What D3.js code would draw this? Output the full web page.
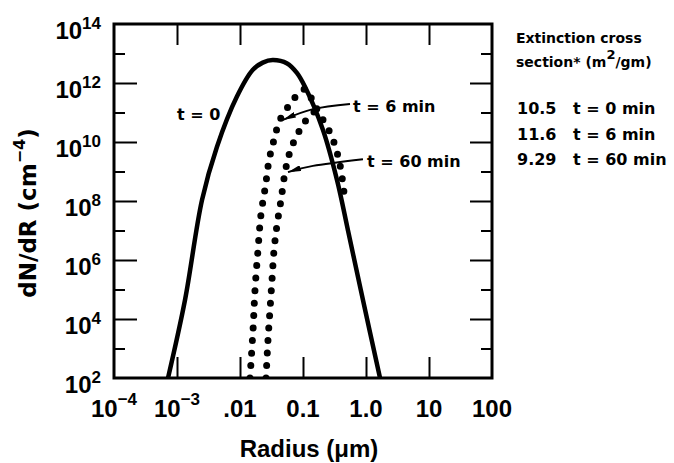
<!DOCTYPE html>
<html>
<head>
<meta charset="utf-8">
<script src="https://cdn.jsdelivr.net/npm/d3@7"></script>
<style>
  html, body { margin: 0; padding: 0; background: #fff; }
  svg { display: block; }
  .tick-label { font-family: "Liberation Sans", Arial, sans-serif; font-weight: bold; font-size: 24px; fill: #000; }
  .axis-title { font-family: "Liberation Sans", Arial, sans-serif; font-weight: bold; font-size: 24px; fill: #000; }
  .note { font-family: "DejaVu Sans", sans-serif; font-weight: bold; font-size: 16px; fill: #000; }
  .legend-head { font-family: "DejaVu Sans", sans-serif; font-weight: bold; font-size: 14px; fill: #000; }
</style>
</head>
<body>
<svg id="chart" width="674" height="463"></svg>
<script>
// size distribution dN/dR vs radius (um)
const RADIUS_T0 = [7.2e-4, 1.34e-3, 2.5e-3, 4.3e-3, 8.9e-3, 1.6e-2, 2.3e-2, 3.3e-2, 5.6e-2, 8.0e-2, 0.108, 0.207, 0.347, 0.518, 0.895, 1.67];
const DNDR_T0 = [1e2, 4.4e4, 1.1e8, 6.8e9, 3.4e11, 2.8e12, 4.9e12, 6.0e12, 4.6e12, 2.2e12, 7.3e11, 2.6e10, 5.1e8, 1.0e7, 4.4e4, 1e2];

const RADIUS_T6 = [1.44e-2, 1.61e-2, 1.73e-2, 1.93e-2, 2.15e-2, 2.55e-2, 2.9e-2, 3.47e-2, 4.3e-2, 6.2e-2, 8.95e-2, 0.112, 0.144, 0.200, 0.288, 0.386, 0.465];
const DNDR_T6 = [1e2, 4.3e3, 9.6e4, 2.2e6, 3.4e7, 3.5e8, 2.5e9, 1.2e10, 5.6e10, 1.9e11, 4.9e11, 6.3e11, 2.3e11, 6.5e10, 1.5e10, 1.7e9, 9.3e7];

const RADIUS_T60 = [2.59e-2, 2.78e-2, 2.99e-2, 3.22e-2, 3.47e-2, 3.86e-2, 4.48e-2, 5.2e-2, 6.2e-2, 8.0e-2, 0.1, 0.129, 0.167];
const DNDR_T60 = [1e2, 1.9e3, 2.0e4, 2.1e5, 2.2e6, 1.5e7, 1.1e8, 9.6e8, 4.6e9, 1.7e10, 3.8e10, 8.3e10, 1.2e11];

// axis ticks and labels
const X_TICKS = [1e-3, 1e-2, 1e-1, 1, 10];
const X_LABEL_VALUES = [1e-4, 1e-3, 1e-2, 1e-1, 1, 10, 100];
const X_LABEL_BASE = ["10", "10", ".01", "0.1", "1.0", "10", "100"];
const X_LABEL_SUP = ["\u22124", "\u22123", "", "", "", "", ""];
const Y_MAJOR = [1e4, 1e6, 1e8, 1e10, 1e12];
const Y_MINOR = [1e3, 1e5, 1e7, 1e9, 1e11, 1e13];
const Y_LABEL_EXP = [2, 4, 6, 8, 10, 12, 14];

// curve annotations (label position and arrow path, in data units)
const NOTE_TEXT = ["t = 0", "t = 6 min", "t = 60 min"];
const NOTE_R = [1e-3, 0.622, 1.04];
const NOTE_N = [5.6e10, 1.05e11, 1.4e9];
const ARROW_T6_R = [0.557, 0.144, 0.048];
const ARROW_T6_N = [1.95e11, 1.3e11, 5.6e10];
const ARROW_T60_R = [0.895, 0.144, 0.0578];
const ARROW_T60_N = [2.6e9, 1.55e9, 9.5e8];

// legend block
const EXT_VALUES = ["10.5", "11.6", "9.29"];
const EXT_TIMES = ["t = 0 min", "t = 6 min", "t = 60 min"];

const plot = { left: 114, top: 24, right: 492, bottom: 378 };

const svg = d3.select("#chart");

const x = d3.scaleLog().domain([1e-4, 100]).range([plot.left, plot.right]);
const y = d3.scaleLog().domain([1e2, 1e14]).range([plot.bottom, plot.top]);

const zip = (rs, ns) => rs.map((r, i) => ({ r, n: ns[i] }));

const defs = svg.append("defs");
defs.append("clipPath").attr("id", "plot-clip")
  .append("rect")
  .attr("x", plot.left).attr("y", plot.top)
  .attr("width", plot.right - plot.left).attr("height", plot.bottom - plot.top);

defs.append("marker")
  .attr("id", "arrow")
  .attr("viewBox", "0 0 13 6")
  .attr("refX", 13).attr("refY", 3)
  .attr("markerWidth", 13).attr("markerHeight", 6)
  .attr("markerUnits", "userSpaceOnUse")
  .attr("orient", "auto")
  .append("path")
  .attr("d", "M0,0L13,3L0,6Z")
  .attr("fill", "#000");

// ticks (inward on all four sides)
const noLabel = () => "";
const styleAxis = (g) => {
  g.select(".domain").remove();
  g.selectAll(".tick line").attr("stroke", "#000").attr("stroke-width", 2);
};

svg.append("g").attr("transform", `translate(0,${plot.bottom})`)
  .call(d3.axisBottom(x).tickValues(X_TICKS).tickSize(-21).tickFormat(noLabel)).call(styleAxis);
svg.append("g").attr("transform", `translate(0,${plot.top})`)
  .call(d3.axisTop(x).tickValues(X_TICKS).tickSize(-21).tickFormat(noLabel)).call(styleAxis);
svg.append("g").attr("transform", `translate(${plot.left},0)`)
  .call(d3.axisLeft(y).tickValues(Y_MAJOR).tickSize(-23).tickFormat(noLabel)).call(styleAxis);
svg.append("g").attr("transform", `translate(${plot.left},0)`)
  .call(d3.axisLeft(y).tickValues(Y_MINOR).tickSize(-11).tickFormat(noLabel)).call(styleAxis);
svg.append("g").attr("transform", `translate(${plot.right},0)`)
  .call(d3.axisRight(y).tickValues(Y_MAJOR).tickSize(-22).tickFormat(noLabel)).call(styleAxis);
svg.append("g").attr("transform", `translate(${plot.right},0)`)
  .call(d3.axisRight(y).tickValues(Y_MINOR).tickSize(-11).tickFormat(noLabel)).call(styleAxis);

svg.append("rect")
  .attr("x", plot.left).attr("y", plot.top)
  .attr("width", plot.right - plot.left).attr("height", plot.bottom - plot.top)
  .attr("fill", "none").attr("stroke", "#000").attr("stroke-width", 3);

// tick labels
const xLab = svg.append("g").selectAll("text")
  .data(X_LABEL_VALUES)
  .join("text")
  .attr("class", "tick-label")
  .attr("x", (d) => x(d))
  .attr("y", plot.bottom + 39)
  .attr("text-anchor", "middle");
xLab.append("tspan").text((d, i) => X_LABEL_BASE[i]);
xLab.append("tspan").attr("dy", -12).attr("font-size", 17).text((d, i) => X_LABEL_SUP[i]);

const yLab = svg.append("g").selectAll("text")
  .data(Y_LABEL_EXP)
  .join("text")
  .attr("class", "tick-label")
  .attr("x", plot.left - 13)
  .attr("y", (e) => y(Math.pow(10, e)) + 15)
  .attr("text-anchor", "end");
yLab.append("tspan").text("10");
yLab.append("tspan").attr("dy", -10).attr("font-size", 17).text((e) => e);

// axis titles
svg.append("text")
  .attr("class", "axis-title")
  .attr("x", 309).attr("y", 457)
  .attr("text-anchor", "middle")
  .text("Radius (\u03bcm)");

const yTitle = svg.append("text")
  .attr("class", "axis-title")
  .attr("transform", "translate(36,213) rotate(-90)")
  .attr("text-anchor", "middle")
  .style("font-family", "'DejaVu Sans', sans-serif")
  .style("font-size", "23px");
yTitle.append("tspan").text("dN/dR (cm");
yTitle.append("tspan").attr("dy", -11).attr("font-size", 16).text("\u22124");
yTitle.append("tspan").attr("dy", 11).text(")");

// curves
const line = d3.line()
  .x((d) => x(d.r))
  .y((d) => y(d.n))
  .curve(d3.curveCatmullRom.alpha(0.5));

const curves = svg.append("g").attr("clip-path", "url(#plot-clip)");

curves.append("path")
  .attr("d", line(zip(RADIUS_T0, DNDR_T0)))
  .attr("fill", "none")
  .attr("stroke", "#000")
  .attr("stroke-width", 4.5)
  .attr("stroke-linejoin", "round");

[zip(RADIUS_T6, DNDR_T6), zip(RADIUS_T60, DNDR_T60)].forEach((series) => {
  curves.append("path")
    .attr("d", line(series))
    .attr("fill", "none")
    .attr("stroke", "#000")
    .attr("stroke-width", 7)
    .attr("stroke-linecap", "round")
    .attr("stroke-dasharray", "0 12.5");
});

// annotations
const arrowLine = d3.line()
  .x((d) => x(d.r))
  .y((d) => y(d.n))
  .curve(d3.curveNatural);

[zip(ARROW_T6_R, ARROW_T6_N), zip(ARROW_T60_R, ARROW_T60_N)].forEach((pts) => {
  svg.append("path")
    .attr("d", arrowLine(pts))
    .attr("fill", "none")
    .attr("stroke", "#000")
    .attr("stroke-width", 2)
    .attr("marker-end", "url(#arrow)");
});

svg.append("g").selectAll("text")
  .data(NOTE_TEXT)
  .join("text")
  .attr("class", "note")
  .attr("x", (d, i) => x(NOTE_R[i]))
  .attr("y", (d, i) => y(NOTE_N[i]))
  .attr("xml:space", "preserve")
  .text((d) => d);

// legend: extinction cross sections
svg.append("text").attr("class", "legend-head")
  .attr("x", 516).attr("y", 43)
  .text("Extinction cross");
const head2 = svg.append("text").attr("class", "legend-head")
  .attr("x", 516).attr("y", 67);
head2.append("tspan").text("section* (m");
head2.append("tspan").attr("dy", -8).attr("font-size", 13).text("2");
head2.append("tspan").attr("dy", 8).text("/gm)");

const rows = svg.append("g").selectAll("g")
  .data(EXT_VALUES)
  .join("g")
  .attr("transform", (d, i) => `translate(517,${114 + i * 25.5})`);
rows.append("text").attr("class", "note").text((d) => d);
rows.append("text").attr("class", "note").attr("x", 56).text((d, i) => EXT_TIMES[i]);
</script>
</body>
</html>
